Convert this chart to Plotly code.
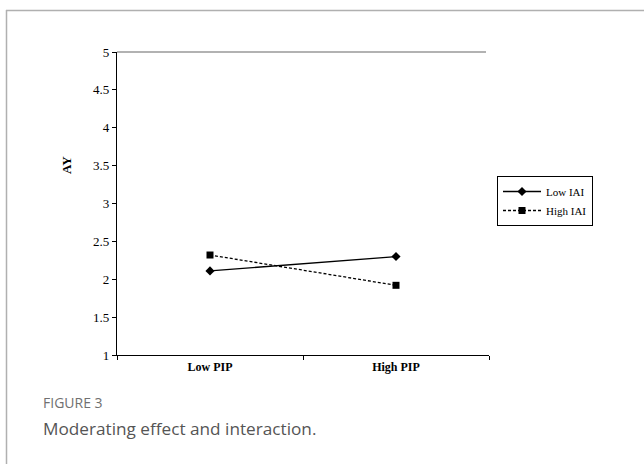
import plotly.graph_objects as go

categories = ["Low PIP", "High PIP"]
low_iai = [2.11, 2.30]
high_iai = [2.32, 1.92]
y_ticks = [1, 1.5, 2, 2.5, 3, 3.5, 4, 4.5, 5]
y_tick_text = ["1", "1.5", "2", "2.5", "3", "3.5", "4", "4.5", "5"]

W, H = 644, 464
L, R, T, B = 117, 489, 52, 355  # plot area in pixels

def px(xp):
    return (xp - L) / (R - L)

def py(yp):
    return (B - yp) / (B - T)

serif = "Liberation Serif"

fig = go.Figure()
fig.add_trace(go.Scatter(
    x=categories, y=low_iai, name="Low IAI", mode="lines+markers",
    line=dict(color="black", width=1.3),
    marker=dict(symbol="diamond", size=7, color="black"),
))
fig.add_trace(go.Scatter(
    x=categories, y=high_iai, name="High IAI", mode="lines+markers",
    line=dict(color="black", width=1.3, dash="3px,2px"),
    marker=dict(symbol="square", size=7, color="black"),
))

fig.update_layout(
    width=W, height=H,
    margin=dict(l=L, r=W - R, t=T, b=H - B, pad=0),
    paper_bgcolor="white", plot_bgcolor="white",
    showlegend=True,
    legend=dict(
        x=px(497), y=py(176), xanchor="left", yanchor="top",
        bordercolor="black", borderwidth=1, bgcolor="white",
        font=dict(family=serif, size=11, color="black"),
        itemwidth=38, tracegroupgap=6,
    ),
    xaxis=dict(
        type="category", range=[-0.5, 1.5], tickson="boundaries",
        ticks="outside", ticklen=4, tickcolor="black", tickwidth=1,
        showline=True, linecolor="black", linewidth=1.2,
        showgrid=False, zeroline=False,
        tickfont=dict(family=serif, size=12, color="black", weight="bold"),
    ),
    yaxis=dict(
        range=[1, 5], tickvals=y_ticks, ticktext=y_tick_text,
        ticks="outside", ticklen=4, tickcolor="black", tickwidth=1,
        showline=True, linecolor="black", linewidth=1.2,
        showgrid=False, zeroline=False,
        tickfont=dict(family=serif, size=13, color="black"),
    ),
    shapes=[
        dict(type="line", xref="paper", yref="paper", x0=0, x1=px(486), y0=1, y1=1,
             line=dict(color="#999999", width=1.5)),
        dict(type="line", xref="paper", yref="paper", x0=px(6.5), x1=px(6.5), y0=py(10), y1=py(470),
             line=dict(color="#b0b0b0", width=1.5)),
        dict(type="line", xref="paper", yref="paper", x0=px(6), x1=px(650), y0=py(10.5), y1=py(10.5),
             line=dict(color="#b0b0b0", width=1.5)),
    ],
    annotations=[
        dict(text="<b>AY</b>", xref="paper", yref="paper", x=px(66), y=py(165),
             textangle=-90, showarrow=False, xanchor="center", yanchor="middle",
             font=dict(family=serif, size=13, color="black")),
        dict(text="FIGURE 3", xref="paper", yref="paper", x=px(41), y=py(402),
             showarrow=False, xanchor="left", yanchor="middle",
             font=dict(family="Open Sans", size=14, color="#707070")),
        dict(text="Moderating effect and interaction.", xref="paper", yref="paper",
             x=px(41), y=py(428), showarrow=False, xanchor="left", yanchor="middle",
             font=dict(family="Open Sans", size=17.2, color="#555555")),
    ],
)

fig.write_html("out.html", config={"displayModeBar": False},
               post_script="document.body.style.margin='0';document.body.style.overflow='hidden';")
